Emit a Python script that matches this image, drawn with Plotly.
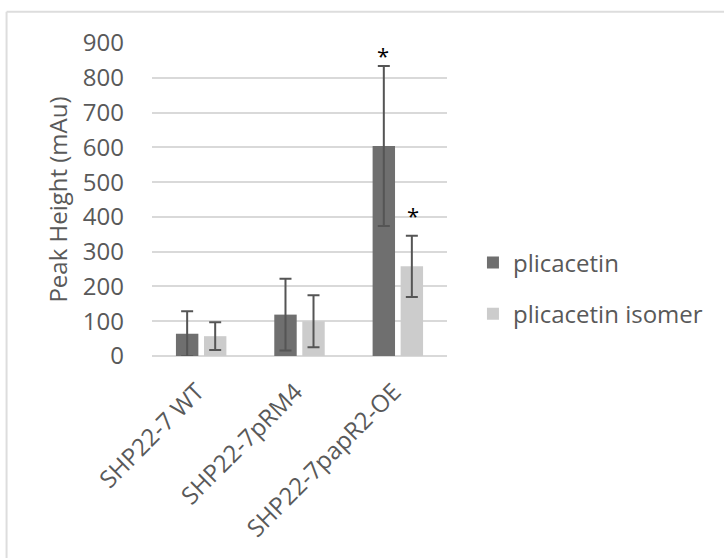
import plotly.graph_objects as go

categories = ["SHP22-7 WT", "SHP22-7pRM4", "SHP22-7papR2-OE"]
plicacetin = [64, 119, 604]
plicacetin_err = [65, 103, 230]
isomer = [57, 100, 258]
isomer_err = [40, 75, 88]
significant_plic = [False, False, True]
significant_iso = [False, False, True]

TEXT = "#595959"
FONT = "Open Sans"
FS = 24

fig = go.Figure()
fig.add_trace(go.Bar(
    name="plicacetin", x=categories, y=plicacetin,
    marker=dict(color="#6f6f6f", line=dict(width=0)),
    error_y=dict(type="data", array=plicacetin_err, color="#555555", thickness=2, width=6),
    legendgroup="a",
))
fig.add_trace(go.Bar(
    name="plicacetin isomer", x=categories, y=isomer,
    marker=dict(color="#cccccc", line=dict(width=0)),
    error_y=dict(type="data", array=isomer_err, color="#555555", thickness=2, width=6),
    legendgroup="b",
))

for i, c in enumerate(categories):
    if significant_plic[i]:
        fig.add_annotation(x=c, y=plicacetin[i] + plicacetin_err[i], text="*", showarrow=False,
                           xshift=-15, yshift=11, yanchor="middle",
                           font=dict(family=FONT, size=22, color="black"))
    if significant_iso[i]:
        fig.add_annotation(x=c, y=isomer[i] + isomer_err[i], text="*", showarrow=False,
                           xshift=15, yshift=21, yanchor="middle",
                           font=dict(family=FONT, size=22, color="black"))

# outer chart frame (top and left edges visible)
fig.add_shape(type="line", xref="paper", yref="paper", x0=-0.493, x1=1.95, y0=1.0997, y1=1.0997,
              line=dict(color="#dddddd", width=2))
fig.add_shape(type="line", xref="paper", yref="paper", x0=-0.493, x1=-0.493, y0=1.0997, y1=-0.65,
              line=dict(color="#dddddd", width=2))

fig.update_layout(
    width=724, height=558,
    margin=dict(l=152, r=277, t=43, b=202),
    paper_bgcolor="white", plot_bgcolor="white",
    barmode="group", bargap=0.43, bargroupgap=0.2,
    font=dict(family=FONT, size=FS, color=TEXT),
    showlegend=True,
    legend=dict(x=1.088, xanchor="left", y=0.216, yanchor="middle",
                tracegroupgap=17, font=dict(size=FS, color=TEXT),
                bgcolor="rgba(0,0,0,0)"),
)
fig.update_yaxes(range=[0, 900], dtick=100, showgrid=True, gridcolor="#d9d9d9", gridwidth=1.5,
                 zeroline=True, zerolinecolor="#d9d9d9", zerolinewidth=1.5,
                 showline=False, ticks="", ticklabelstandoff=27, automargin=False,
                 tickfont=dict(size=FS, color=TEXT),
                 title=dict(text="Peak Height (mAu)", font=dict(size=FS, color=TEXT), standoff=8))
fig.update_xaxes(showline=False, ticks="", tickangle=-45, ticklabelstandoff=16, ticklabelshift=-4,
                 automargin=False, tickfont=dict(size=FS, color=TEXT))

fig.write_html("out.html", config={"displayModeBar": False},
               post_script="document.body.style.margin='0px';")
